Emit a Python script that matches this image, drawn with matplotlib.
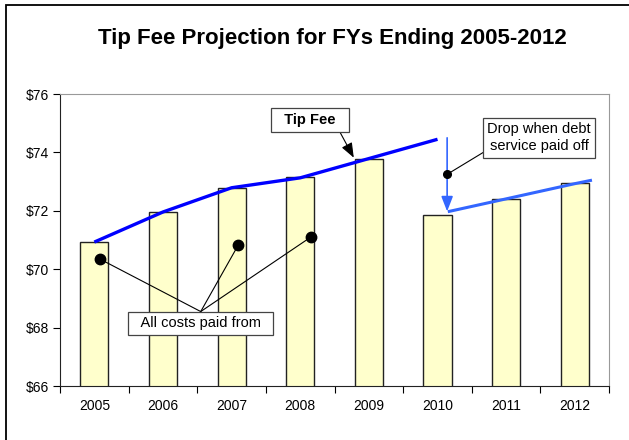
import matplotlib.pyplot as plt
from matplotlib.patches import Rectangle

plt.rcParams["font.family"] = ["Liberation Sans", "DejaVu Sans"]

years = ["2005", "2006", "2007", "2008", "2009", "2010", "2011", "2012"]
costs = [70.93, 71.96, 72.77, 73.15, 73.79, 71.85, 72.39, 72.94]

# tip fee before the debt is paid off (2005-2010)
fee_x = [0, 1, 2, 3, 4, 5]
fee_y = [70.93, 71.96, 72.79, 73.13, 73.79, 74.45]
# tip fee after the drop
fee2_x = [5.15, 6, 7, 7.25]
fee2_y = [71.97, 72.41, 72.93, 73.05]

# "all costs paid from" callout dots
dot_x = [0.08, 2.1, 3.16]
dot_y = [70.35, 70.84, 71.11]

BAR = "#ffffcc"
BLUE = "#0000ff"
LIGHT_BLUE = "#3366ff"

fig = plt.figure(figsize=(6.29, 4.40), dpi=100)
ax = fig.add_axes([0.0954, 0.1227, 0.873, 0.6636])

x = range(len(years))
ax.bar(x, costs, width=0.41, color=BAR, edgecolor="#222222", linewidth=1.0,
       zorder=2)
ax.plot(fee_x, fee_y, color=BLUE, linewidth=2.4, zorder=3,
        solid_capstyle="butt")
ax.plot(fee2_x, fee2_y, color=LIGHT_BLUE, linewidth=2.2, zorder=3,
        solid_capstyle="butt")

ax.set_xlim(-0.5, 7.5)
ax.set_ylim(66, 76)
ax.set_yticks(range(66, 77, 2))
ax.set_yticklabels([f"${v}" for v in range(66, 77, 2)], fontsize=10)
ax.set_xticks([i + 0.5 for i in range(-1, 8)])
ax.set_xticklabels([])
ax.set_xticks(list(x), minor=True)
ax.set_xticklabels(years, minor=True, fontsize=10)
ax.tick_params(axis="x", which="minor", length=0, pad=9)
ax.tick_params(axis="x", which="major", length=5, direction="out")
ax.tick_params(axis="y", length=5, direction="out", pad=3)
for s in ("top", "right"):
    ax.spines[s].set_color("#999999")
for s in ("left", "bottom"):
    ax.spines[s].set_color("#222222")

# all costs paid from callout
box_xy = (1.55, 68.15)
for dx, dy in zip(dot_x, dot_y):
    ax.plot([dx, box_xy[0]], [dy, 68.55], color="black", linewidth=0.8,
            zorder=4)
ax.plot(dot_x, dot_y, "o", color="black", markersize=7.5, zorder=5)
ax.text(box_xy[0], box_xy[1], "  All costs paid from  ", ha="center",
        va="center", fontsize=10.5, zorder=6,
        bbox=dict(boxstyle="square,pad=0.3", fc="white", ec="#444444",
                  lw=0.9))

# tip fee label with arrow
ax.annotate("", xy=(3.78, 73.82), xytext=(3.52, 74.95),
            arrowprops=dict(arrowstyle="-|>,head_length=0.9,head_width=0.35",
                            color="black", lw=0.8, shrinkA=0, shrinkB=0),
            zorder=6)
ax.text(3.14, 75.1, "  Tip Fee  ", ha="center", va="center", fontsize=10.5,
        fontweight="bold", zorder=7,
        bbox=dict(boxstyle="square,pad=0.35", fc="white", ec="#444444",
                  lw=0.9))

# drop arrow and label
ax.annotate("", xy=(5.14, 71.98), xytext=(5.14, 74.5),
            arrowprops=dict(arrowstyle="-|>,head_length=0.9,head_width=0.35",
                            color=LIGHT_BLUE, lw=1.2, shrinkA=0, shrinkB=0),
            zorder=6)
ax.plot([5.14, 5.68], [73.25, 74.02], color="black", linewidth=0.8, zorder=6)
ax.plot([5.14], [73.25], "o", color="black", markersize=5.5, zorder=7)
ax.text(6.48, 74.5, "Drop when debt\nservice paid off", ha="center",
        va="center", fontsize=10.5, linespacing=1.3, zorder=7,
        bbox=dict(boxstyle="square,pad=0.3", fc="white", ec="#444444",
                  lw=0.9))

fig.text(0.528, 0.913, "Tip Fee Projection for FYs Ending 2005-2012",
         ha="center", va="center", fontsize=16, fontweight="bold")

# outer chart border (left and top visible)
fig.patches.append(Rectangle((6 / 629, -0.05), 1.2, 1 - 5 / 440 + 0.05,
                             transform=fig.transFigure, fill=False,
                             ec="black", lw=1.3))

fig.savefig("out.png", dpi=100)
